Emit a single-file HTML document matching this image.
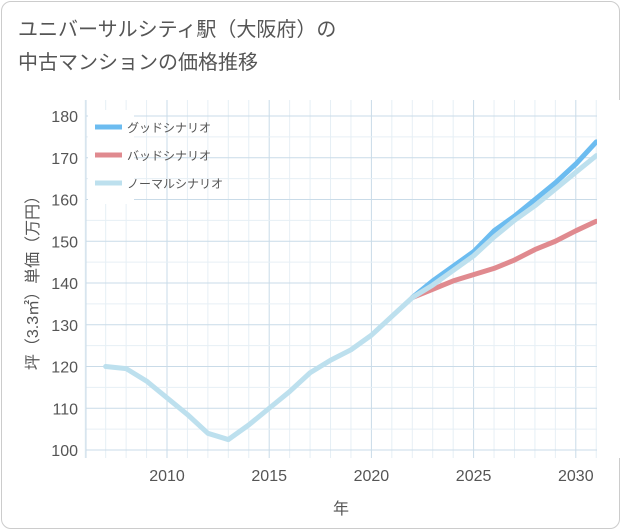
<!DOCTYPE html>
<html><head><meta charset="utf-8"><style>
body{margin:0;background:#fff;font-family:"Liberation Sans","Noto Sans CJK JP",sans-serif}
.card{position:absolute;left:1px;top:1px;width:617px;height:526px;border:1px solid #ccc;border-radius:10px;background:#fff}
.title{position:absolute;left:18px;top:14px;font-size:20px;line-height:33px;color:#555}
</style></head><body>
<div class="card"></div>
<div class="title">ユニバーサルシティ駅（大阪府）の<br>中古マンションの価格推移</div>
<svg id="chart" width="621" height="530" style="position:absolute;left:0;top:0"></svg>
<script>
const years=[2007,2008,2009,2010,2011,2012,2013,2014,2015,2016,2017,2018,2019,2020,2021,2022,2023,2024,2025,2026,2027,2028,2029,2030,2031];
const normal=[120,119.5,116.5,112.5,108.5,104,102.5,106,110,114,118.5,121.5,124,127.5,132,136.5,139.5,143,146.5,151,155,158.5,162.5,166.5,170.5];
const futureYears=[2022,2023,2024,2025,2026,2027,2028,2029,2030,2031];
const good=[136.5,140.5,144,147.5,152.5,156,160,164,168.5,173.8];
const bad=[136.5,138.5,140.5,142,143.5,145.5,148,150,152.5,154.8];
const yTicks=[100,110,120,130,140,150,160,170,180];
const xTicks=[2010,2015,2020,2025,2030];
const L=86,R=597,T=100,B=458;
const x=v=>167+(v-2010)*20.44;
const y=v=>450-(v-100)*4.175;
const svg=document.getElementById('chart');const NS='http://www.w3.org/2000/svg';
function mk(t,a,p){const e=document.createElementNS(NS,t);for(const k in a)e.setAttribute(k,a[k]);(p||svg).appendChild(e);return e;}
// grid
for(let v=2006;v<=2031;v++){const g=mk('line',{x1:x(v),x2:x(v),y1:T,y2:B,stroke:xTicks.includes(v)?'#c9dbe8':'#e6eff5','stroke-width':1});
}
for(let v=100;v<=182;v+=5){if(y(v)<T)continue;const g=mk('line',{x1:L,x2:R,y1:y(v),y2:y(v),stroke:v%10==0?'#c9dbe8':'#e6eff5','stroke-width':1});
}
const ax=mk('line',{x1:L,x2:L,y1:T,y2:B,stroke:'#c9dbe8'});
yTicks.forEach(v=>{const t=mk('text',{x:78,y:y(v)+6,'text-anchor':'end','font-size':16,fill:'#555'});t.textContent=v;
});
xTicks.forEach(v=>{const t=mk('text',{x:x(v),y:481,'text-anchor':'middle','font-size':16,fill:'#555'});t.textContent=v;
});
const xt=mk('text',{x:341,y:514,'text-anchor':'middle','font-size':16,fill:'#555'});xt.textContent='年';

const yt=mk('text',{x:0,y:0,'text-anchor':'middle','font-size':16,fill:'#555',transform:'translate(38,279) rotate(-90)'});yt.textContent='坪（3.3㎡）単価（万円）';

function line(xs,vs,color,name){const p=mk('polyline',{points:xs.map((v,i)=>x(v)+','+y(vs[i])).join(' '),fill:'none',stroke:color,'stroke-width':5,'stroke-linejoin':'round','stroke-linecap':'round'});
}
line(futureYears,bad,'#e08a8f','bad-scenario-line');
line(futureYears,good,'#6cbcf0','good-scenario-line');
line(years,normal,'#bde0ee','normal-scenario-line');
const cp=mk('rect',{x:R,y:T,width:30,height:B-T,fill:'#fff'});
const lb=mk('rect',{x:88,y:110,width:46,height:94,fill:'#fff'});
[['グッドシナリオ','#6cbcf0',127],['バッドシナリオ','#e08a8f',155],['ノーマルシナリオ','#bde0ee',183]].forEach(([n,c,yy])=>{
const l=mk('line',{x1:95,x2:122,y1:yy,y2:yy,stroke:c,'stroke-width':5});
const t=mk('text',{x:127,y:yy+5,'font-size':12,fill:'#555'});t.textContent=n;});
</script>
</body></html>
